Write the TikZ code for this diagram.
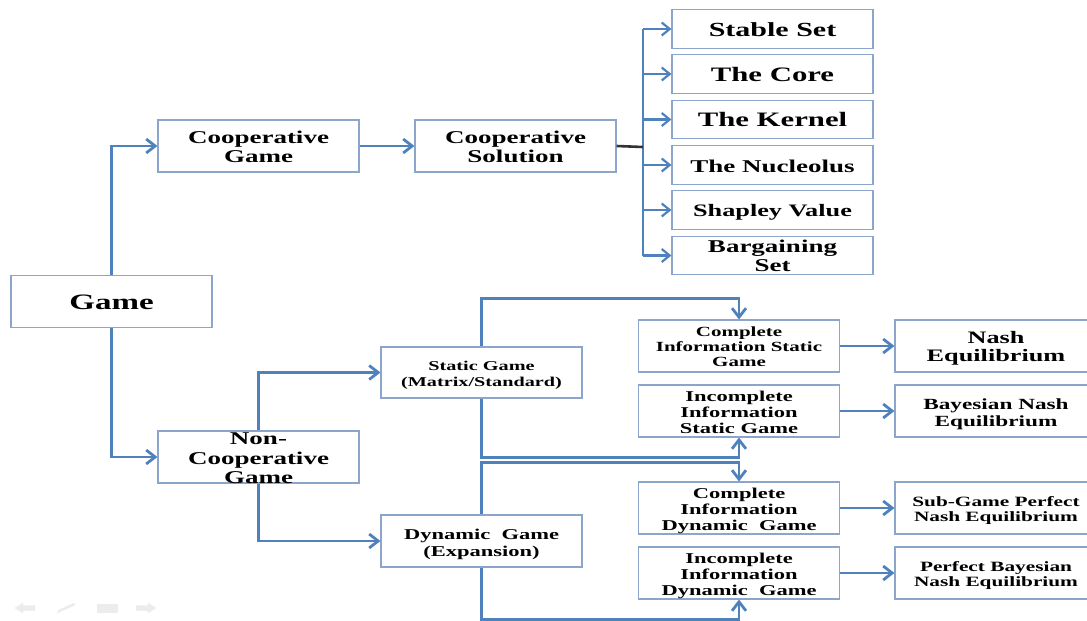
\documentclass[tikz,border=0pt]{standalone}
\usepackage{fontspec}
\usepackage{graphicx}
\setmainfont{Liberation Serif}
\usetikzlibrary{arrows.meta}

\definecolor{linkblue}{RGB}{79,129,189}
\definecolor{boxline}{RGB}{140,165,205}
\definecolor{navgray}{RGB}{236,236,236}

% bold, horizontally widened label: size, baselineskip, lines
% (set in a box of no height, so the frame keeps its own size)
\newcommand\wide[3]{{\fontsize{#1}{#2}\selectfont\bfseries
  \raisebox{\dimexpr -#1pt/4 - 3pt\relax}[0pt][0pt]{%
    \scalebox{1.5}[1]{\begin{tabular}{@{}c@{}}#3\end{tabular}}}}}

\tikzset{
  box/.style={draw=boxline, line width=1.1pt, fill=white, inner sep=0pt,
              minimum width=201pt, minimum height=52pt},
  fanbox/.style={box, minimum height=38.5pt},
  arr/.style={draw=linkblue, line width=2.8pt, -{Straight Barb[length=9pt,width=14pt]}},
  fanarr/.style={draw=linkblue, line width=2.2pt, -{Straight Barb[length=8pt,width=13pt]}},
  navicon/.style={fill=navgray, draw=navgray},
}

\begin{document}
\begin{tikzpicture}[x=1pt,y=-1pt]
\clip (0,0) rectangle (1087,621);
\useasboundingbox (0,0) rectangle (1087,621);

% root and first level
\node[box] (game) at (111.5,301.5) {\wide{22}{24}{Game}};
\node[box] (coop) at (258.5,146) {\wide{18}{19.5}{Cooperative\\Game}};
\node[box] (nc)   at (258.5,457) {\wide{18}{19.5}{Non-\\Cooperative\\Game}};

% cooperative branch
\node[box] (cs) at (515.5,146) {\wide{18}{19.5}{Cooperative\\Solution}};
\node[fanbox] (ss) at (772.5,29)    {\wide{20}{22}{Stable Set}};
\node[fanbox] (co) at (772.5,74)    {\wide{20.5}{22}{The Core}};
\node[fanbox] (ke) at (772.5,119.5) {\wide{20.5}{22}{The Kernel}};
\node[fanbox] (nu) at (772.5,165)   {\wide{18}{20}{The Nucleolus}};
\node[fanbox] (sh) at (772.5,210)   {\wide{17.5}{19}{Shapley Value}};
\node[fanbox] (bs) at (772.5,255.5) {\wide{18}{19}{Bargaining\\Set}};

% non-cooperative branch
\node[box, minimum height=51pt] (st) at (481.5,372.5) {\wide{13.5}{16}{Static Game\\(Matrix/Standard)}};
\node[box] (dg) at (481.5,541) {\wide{15}{17}{Dynamic\ \ Game\\(Expansion)}};

\node[box] (cis) at (739,346) {\wide{14}{15}{Complete\\Information Static\\Game}};
\node[box] (iis) at (739,411) {\wide{15}{16}{Incomplete\\Information\\Static Game}};
\node[box] (cid) at (739,508) {\wide{15}{16}{Complete\\Information\\Dynamic\ \ Game}};
\node[box] (iid) at (739,573) {\wide{15}{16}{Incomplete\\Information\\Dynamic\ \ Game}};

\node[box, minimum width=202pt] (ne)   at (996,346) {\wide{17.5}{18}{Nash\\Equilibrium}};
\node[box, minimum width=202pt] (bne)  at (996,411) {\wide{15.5}{17}{Bayesian Nash\\Equilibrium}};
\node[box, minimum width=202pt] (spne) at (996,508) {\wide{14.2}{15}{Sub-Game Perfect\\Nash Equilibrium}};
\node[box, minimum width=202pt] (pbne) at (996,573) {\wide{14.2}{15}{Perfect Bayesian\\Nash Equilibrium}};

% connectors
\draw[arr] (game.north) |- (coop.west);
\draw[arr] (game.south) |- (nc.west);
\draw[arr] (coop.east) -- (cs.west);

\coordinate (fan) at (643,147);
\draw[draw=linkblue, line width=2.4pt] (fan |- ss.west) -- (fan |- bs.west);
\draw[line width=2.6pt, black!80] (cs.east) -- (fan);
\foreach \n in {ss,co,ke,nu,sh,bs}
  \draw[fanarr] (fan |- \n.west) -- (\n.west);

\draw[arr] (nc.north) |- (st.west);
\draw[arr] (nc.south) |- (dg.west);

\draw[arr] (st.north) -- ++(0,-48) -| (cis.north);
\draw[arr] (st.south) -- ++(0,59)  -| (iis.south);
\draw[arr] (dg.north) -- ++(0,-52) -| (cid.north);
\draw[arr] (dg.south) -- ++(0,52)  -| (iid.south);

\draw[arr] (cis.east) -- (ne.west);
\draw[arr] (iis.east) -- (bne.west);
\draw[arr] (cid.east) -- (spne.west);
\draw[arr] (iid.east) -- (pbne.west);

% slide navigation controls
\path[navicon] (15,608) -- (23,603) -- (23,605.5) -- (35,605.5) -- (35,610.5) -- (23,610.5) -- (23,613) -- cycle;
\path[navicon] (57,613) -- (59,610) -- (74,603) -- (75,605) -- cycle;
\path[navicon] (97,604) rectangle (117,612);
\path[navicon] (156,608) -- (148,603) -- (148,605.5) -- (136,605.5) -- (136,610.5) -- (148,610.5) -- (148,613) -- cycle;
\end{tikzpicture}
\end{document}
